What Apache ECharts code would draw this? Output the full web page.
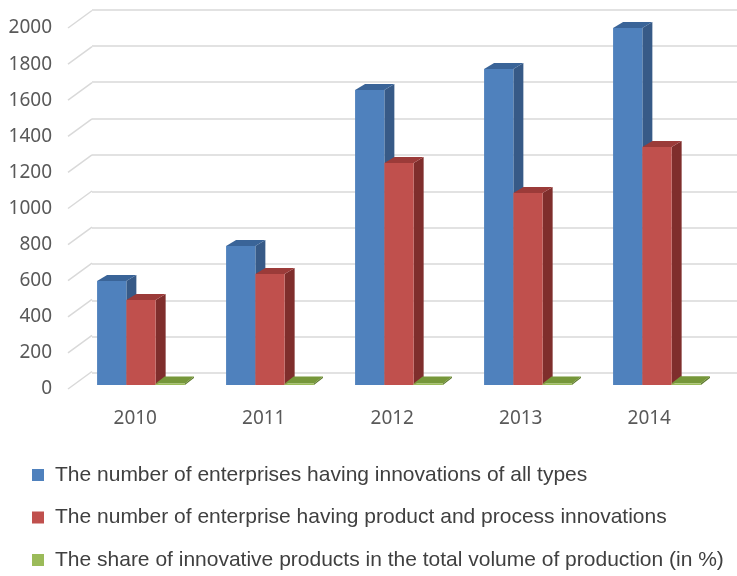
<!DOCTYPE html>
<html>
<head>
<meta charset="utf-8">
<script src="https://cdn.jsdelivr.net/npm/echarts@6/dist/echarts.min.js"></script>
<style>html,body{margin:0;padding:0;background:#fff;}#c{width:737px;height:576px;}</style>
</head>
<body>
<div id="c"></div>
<script>
const categories = ['2010', '2011', '2012', '2013', '2014'];
const allTypes = [575, 768, 1630, 1746, 1972];
const productProcess = [470, 613, 1227, 1061, 1315];
const sharePct = [6.3, 7.1, 8.4, 8.0, 9.1];
const seriesNames = [
  'The number of enterprises having innovations of all types',
  'The number of enterprise having product and process innovations',
  'The share of innovative products in the total volume of production (in %)'
];
const yMin = 0, yMax = 2000, yStep = 200;
const yTicks = [];
for (let v = yMin; v <= yMax; v += yStep) yTicks.push(v);

const faces = [
  { front: '#4F81BD', top: '#3A6498', side: '#375A87' },
  { front: '#C0504D', top: '#9B3B39', side: '#7F2E2C' },
  { front: '#9BBB59', top: '#76973A', side: '#5E7A2E' }
];
const DX = 10, DY = 6;

function barRenderer(idx) {
  return function (params, api) {
    const c = api.coord([api.value(0), api.value(1)]);
    const b = api.coord([api.value(0), 0]);
    const band = api.size([1, 0])[0];
    const w = band * 0.227;
    const x0 = c[0] + (idx - 1.5) * w;
    let top = c[1];
    const base = b[1];
    if (base - top < 1.5) top = base - 1.5;
    const f = faces[idx];
    const dx = idx === 2 ? 9 : DX, dy = idx === 2 ? 7 : DY;
    return {
      type: 'group',
      children: [
        { type: 'polygon', shape: { points: [[x0 + w, top], [x0 + w + dx, top - dy], [x0 + w + dx, base - dy], [x0 + w, base]] }, style: { fill: f.side } },
        { type: 'polygon', shape: { points: [[x0, top], [x0 + w, top], [x0 + w + dx, top - dy], [x0 + dx, top - dy]] }, style: { fill: f.top } },
        { type: 'rect', shape: { x: x0, y: top, width: w, height: base - top }, style: { fill: f.front } }
      ]
    };
  };
}

function diagRenderer(params, api) {
  const p = api.coord([0, api.value(0)]);
  const x = params.coordSys.x - 3;
  return {
    type: 'line',
    shape: { x1: x, y1: p[1], x2: x + 24, y2: p[1] - 17.5 },
    style: { stroke: '#d9d9d9', lineWidth: 1.5 }
  };
}

const chart = echarts.init(document.getElementById('c'));
const labelFont = { fontFamily: 'Noto Sans, Liberation Sans, sans-serif', fontSize: 19, color: '#595959' };
chart.setOption({
  animation: false,
  backgroundColor: '#ffffff',
  grid: [
    { left: 92, right: 0, top: 9.5, height: 363.5 },
    { left: 71, width: 642.5, top: 28, height: 361 },
    { left: 76.5, width: 645, top: 23, height: 362 }
  ],
  xAxis: [
    { gridIndex: 0, type: 'category', data: categories, show: false },
    { gridIndex: 1, type: 'category', data: categories, axisLine: { show: false }, axisTick: { show: false },
      axisLabel: Object.assign({ margin: 20 }, labelFont) },
    { gridIndex: 2, type: 'category', data: categories, show: false }
  ],
  yAxis: [
    { gridIndex: 0, type: 'value', min: yMin, max: yMax, interval: yStep, axisLabel: { show: false },
      axisLine: { show: false }, axisTick: { show: false },
      splitLine: { show: true, lineStyle: { color: '#d9d9d9', width: 1.5 } } },
    { gridIndex: 1, type: 'value', min: yMin, max: yMax, interval: yStep,
      axisLine: { show: false }, axisTick: { show: false }, splitLine: { show: false },
      axisLabel: Object.assign({ margin: 19, formatter: v => String(v) }, labelFont) },
    { gridIndex: 2, type: 'value', min: yMin, max: yMax, interval: yStep, show: false, splitLine: { show: false } }
  ],
  legend: {
    orient: 'vertical', left: 32, top: 463, height: 113, padding: 0, itemGap: 18.5, itemWidth: 12, itemHeight: 12, icon: 'rect',
    data: seriesNames,
    textStyle: { fontFamily: 'Liberation Sans, sans-serif', fontSize: 21, color: '#404040', lineHeight: 24, padding: [0, 0, 0, 6] }
  },
  series: [
    { type: 'custom', name: 'diag', xAxisIndex: 1, yAxisIndex: 1, data: yTicks.map(v => [v]), renderItem: diagRenderer, silent: true, z: 1 },
    { type: 'custom', name: seriesNames[0], xAxisIndex: 2, yAxisIndex: 2, itemStyle: { color: faces[0].front },
      data: categories.map((c, i) => [i, allTypes[i]]), renderItem: barRenderer(0), z: 3 },
    { type: 'custom', name: seriesNames[1], xAxisIndex: 2, yAxisIndex: 2, itemStyle: { color: faces[1].front },
      data: categories.map((c, i) => [i, productProcess[i]]), renderItem: barRenderer(1), z: 4 },
    { type: 'custom', name: seriesNames[2], xAxisIndex: 2, yAxisIndex: 2, itemStyle: { color: faces[2].front },
      data: categories.map((c, i) => [i, sharePct[i]]), renderItem: barRenderer(2), z: 5 }
  ]
});
</script>
</body>
</html>
